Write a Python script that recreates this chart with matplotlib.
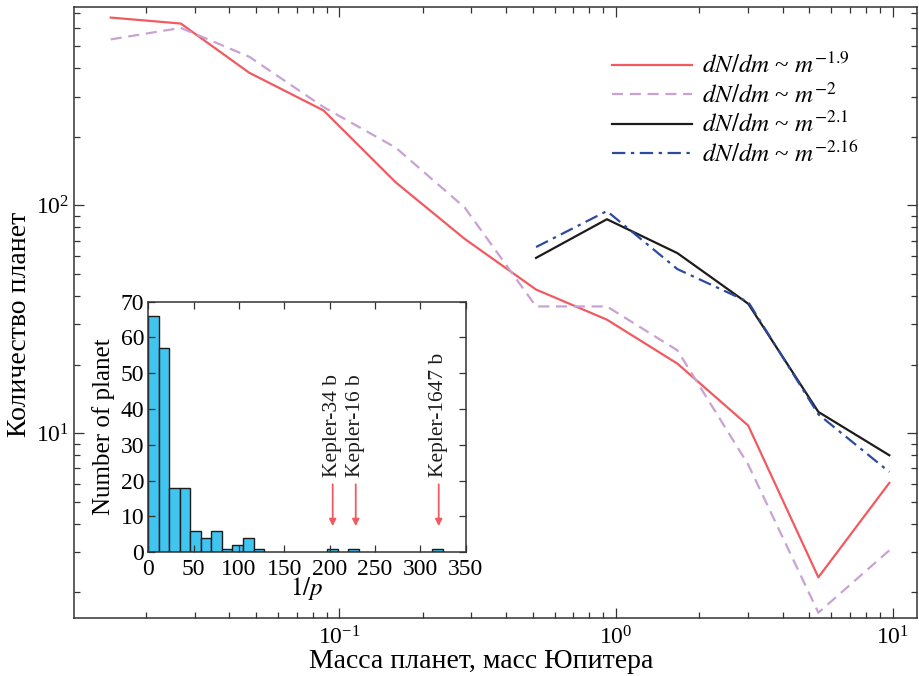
import numpy as np
import matplotlib
matplotlib.use('Agg')
import matplotlib.pyplot as plt
from matplotlib.ticker import LogLocator, MultipleLocator, NullFormatter

plt.rcParams['font.family'] = ['Liberation Serif', 'DejaVu Serif']
plt.rcParams['mathtext.fontset'] = 'stix'

# ── data ────────────────────────────────────────────────────────────────
mass = [0.0149, 0.0267, 0.0472, 0.0876, 0.160, 0.284,
        0.514, 0.927, 1.667, 3.006, 5.39, 9.73]
n_m19 = [667, 628, 382, 261, 126, 71.2, 42.7, 31.5, 20.2, 10.8, 2.33, 6.05]
n_m2 = [535, 601, 449, 270, 179, 97.7, 36.0, 36.0, 23.1, 7.28, 1.63, 3.06]

mass_hi = [0.514, 0.927, 1.667, 3.006, 5.39, 9.73]
n_m21 = [58.8, 86.9, 61.7, 37.0, 12.4, 8.0]
n_m216 = [65.6, 94.4, 52.5, 37.7, 12.1, 6.76]

labels = [r'$dN/dm$ ~ $m^{-1.9}$', r'$dN/dm$ ~ $m^{-2}$',
          r'$dN/dm$ ~ $m^{-2.1}$', r'$dN/dm$ ~ $m^{-2.16}$']

# inset histogram of 1/p
bin_width = 11.6
bin_left = [0, 11.6, 23.2, 34.8, 46.4, 58.0, 69.6, 81.2, 92.8, 104.4, 116.0,
            197.2, 220.4, 313.2]
bin_count = [66, 57, 18, 18, 6, 4, 6, 1, 2, 4, 1, 1, 1, 1]

kepler_names = ['Kepler-34 b', 'Kepler-16 b', 'Kepler-1647 b']
kepler_inv_p = [203.3, 228.7, 320.2]

RED = '#f05a60'
LAV = '#c9a2d4'
BLK = '#1c1c1c'
BLUE = '#2c4b9e'
CYAN = '#3fc5f0'
SPINE = '#333333'

fig = plt.figure(figsize=(9.19, 6.76), dpi=100)
ax = fig.add_axes([0.0808, 0.0863, 0.9170, 0.9029])

ax.plot(mass, n_m19, color=RED, lw=1.6, label=labels[0])
ax.plot(mass, n_m2, color=LAV, lw=1.6, ls=(0, (5, 3)), label=labels[1])
ax.plot(mass_hi, n_m21, color=BLK, lw=1.6, label=labels[2])
ax.plot(mass_hi, n_m216, color=BLUE, lw=1.6, ls=(0, (6, 2.5, 1.5, 2.5)),
        label=labels[3])

ax.set_xscale('log')
ax.set_yscale('log')
ax.set_xlim(0.0110, 12.25)
ax.set_ylim(1.55, 740)

ax.set_xlabel('Масса планет, масс Юпитера', fontsize=20, labelpad=0)
ax.set_ylabel('Количество планет', fontsize=20, labelpad=3)
ax.xaxis.label.set_x(0.483)
ax.yaxis.label.set_y(0.481)

ax.xaxis.set_major_locator(LogLocator(base=10, numticks=10))
ax.xaxis.set_minor_locator(LogLocator(base=10, subs=np.arange(2, 10), numticks=20))
ax.yaxis.set_major_locator(LogLocator(base=10, numticks=10))
ax.yaxis.set_minor_locator(LogLocator(base=10, subs=np.arange(2, 10), numticks=20))
ax.xaxis.set_minor_formatter(NullFormatter())
ax.yaxis.set_minor_formatter(NullFormatter())
ax.tick_params(which='both', direction='in', top=True, right=True,
               color=SPINE, labelsize=17, width=0.9)
ax.tick_params(which='major', length=7)
ax.tick_params(which='minor', length=4.5)
ax.tick_params(axis='x', pad=6)
for s in ax.spines.values():
    s.set_color(SPINE)
    s.set_linewidth(1.1)

ax.legend(loc='upper left', bbox_to_anchor=(0.638, 0.925), frameon=False,
          fontsize=18, handlelength=3.2, handletextpad=0.4,
          labelspacing=0.17, borderpad=0, borderaxespad=0)

# ── inset ──────────────────────────────────────────────────────────────
axi = fig.add_axes([0.1614, 0.1830, 0.3454, 0.3707])
axi.bar(bin_left, bin_count, width=bin_width, align='edge',
        color=CYAN, edgecolor=BLK, linewidth=1.0)
axi.set_xlim(0, 350)
axi.set_ylim(0, 70)
axi.xaxis.set_major_locator(MultipleLocator(50))
axi.yaxis.set_major_locator(MultipleLocator(10))
axi.tick_params(direction='in', top=True, right=True, length=5,
                color=SPINE, labelsize=17, width=0.9)
axi.tick_params(axis='x', pad=5)
axi.tick_params(axis='y', pad=3)
axi.set_xlabel(r'$1/p$', fontsize=18, labelpad=-4)
axi.set_ylabel('Number of planet', fontsize=18, labelpad=4)
for s in axi.spines.values():
    s.set_color(SPINE)
    s.set_linewidth(1.1)

for name, xv in zip(kepler_names, kepler_inv_p):
    axi.annotate('', xy=(xv, 7.3), xytext=(xv, 19),
                 arrowprops=dict(arrowstyle='-|>', color=RED, lw=1.3,
                                 mutation_scale=10, shrinkA=0, shrinkB=0))
    axi.text(xv, 21, name, rotation=90, ha='center', va='bottom',
             fontsize=15.5, color=BLK)

fig.savefig('out.png', dpi=100)
